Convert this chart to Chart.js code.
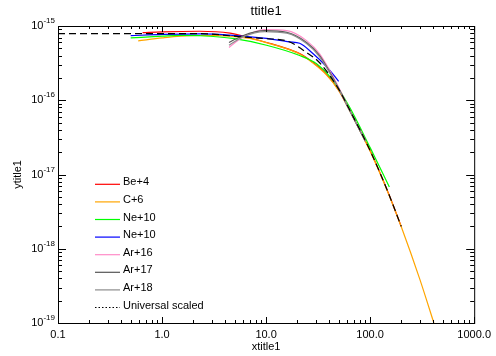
<!DOCTYPE html>
<html lang="en">
<head>
<meta charset="UTF-8" />
<title>ttitle1</title>
<script src="https://cdn.jsdelivr.net/npm/chart.js"></script>
<style>
  body { margin: 0; background: #fff; }
  canvas { display: block; }
</style>
</head>
<body>
<canvas id="chart" width="496" height="356"></canvas>
<script>
  // values (log-log)
  const beX = [0.65, 1.0, 2.3, 4.5, 7.0, 10.8, 14.4, 21, 28, 38, 50, 63, 100, 150, 199];
  const beY = [8.15e-16, 8.35e-16, 8.5e-16, 8.0e-16, 6.9e-16, 5.85e-16, 5.2e-16, 4.25e-16, 3.25e-16, 2.25e-16, 1.36e-16, 7.5e-17, 2.1e-17, 5.6e-18, 2.0e-18];

  const cX = [0.59, 1.0, 1.5, 2.3, 3.6, 5.6, 7.0, 10.8, 14.4, 21, 28, 38, 50, 63, 100, 150, 200, 300, 410];
  const cY = [6.3e-16, 6.9e-16, 7.3e-16, 7.45e-16, 7.4e-16, 7.1e-16, 6.8e-16, 5.8e-16, 5.15e-16, 4.2e-16, 3.2e-16, 2.2e-16, 1.35e-16, 7.4e-17, 2.05e-17, 5.5e-18, 1.95e-18, 3.9e-19, 1.0e-19];

  const ne1X = [0.5, 1.0, 1.5, 2.3, 4.8, 10.1, 21, 30.6, 43.5, 63, 100, 153];
  const ne1Y = [6.9e-16, 7.3e-16, 7.5e-16, 7.4e-16, 6.8e-16, 5.5e-16, 4.0e-16, 3.1e-16, 1.9e-16, 8.2e-17, 2.3e-17, 6.8e-18];

  const ne2X = [0.5, 1.0, 2.3, 4.8, 10.1, 16.8, 21, 28, 38, 49.8];
  const ne2Y = [7.4e-16, 7.7e-16, 7.85e-16, 7.5e-16, 6.8e-16, 6.1e-16, 5.85e-16, 4.3e-16, 2.85e-16, 1.8e-16];

  const arX = [4.4, 5.96, 9.7, 15.8, 24.5, 32.7, 49.8, 63, 90];
  const ar16Y = [5.15e-16, 7.05e-16, 8.95e-16, 8.65e-16, 6.35e-16, 4.2e-16, 1.5e-16, 7.6e-17, 2.9e-17];
  const ar17Y = [6.0e-16, 7.4e-16, 8.65e-16, 8.2e-16, 6.0e-16, 4.0e-16, 1.45e-16, 7.5e-17, 2.8e-17];
  const ar18Y = [5.5e-16, 7.1e-16, 8.4e-16, 8.0e-16, 5.8e-16, 3.85e-16, 1.42e-16, 7.4e-17, 2.8e-17];

  const uniX = [0.1, 1.0, 1.6, 2.9, 4.2, 7, 10, 15.8, 24.5, 32.7, 50, 63, 100, 150, 199];
  const uniY = [7.9e-16, 7.9e-16, 7.9e-16, 7.8e-16, 7.45e-16, 7.0e-16, 6.75e-16, 6.3e-16, 4.4e-16, 3.2e-16, 1.4e-16, 7.6e-17, 2.1e-17, 5.6e-18, 2.0e-18];

  const seriesNames = ['Be+4', 'C+6', 'Ne+10', 'Ne+10', 'Ar+16', 'Ar+17', 'Ar+18', 'Universal scaled'];
  const seriesColors = ['#ff0000', '#ffa500', '#00ff00', '#0000ff', '#ff8cc8', '#555555', '#8c8c8c', '#000000'];

  const xTickValues = [0.1, 1, 10, 100, 1000];
  const xTickLabels = ['0.1', '1.0', '10.0', '100.0', '1000.0'];
  const yTickValues = [1e-19, 1e-18, 1e-17, 1e-16, 1e-15];
  const yTickExps = ['-19', '-18', '-17', '-16', '-15'];

  const FONT = "'Liberation Sans', Arial, Helvetica, sans-serif";

  function pts(xs, ys) {
    return xs.map((x, i) => ({ x: x, y: ys[i] }));
  }

  const seriesData = [
    pts(beX, beY), pts(cX, cY), pts(ne1X, ne1Y), pts(ne2X, ne2Y),
    pts(arX, ar16Y), pts(arX, ar17Y), pts(arX, ar18Y), pts(uniX, uniY)
  ];

  const datasets = seriesData.map((d, i) => ({
    label: seriesNames[i],
    data: d,
    borderColor: seriesColors[i],
    backgroundColor: seriesColors[i],
    borderWidth: 1.2,
    borderDash: i === 7 ? [7, 4] : [],
    pointRadius: 0,
    showLine: true,
    cubicInterpolationMode: 'monotone',
    order: 8 - i
  }));

  // frame with inward ticks, titles, tick labels and the legend box
  const idlFrame = {
    id: 'idlFrame',
    afterDatasetsDraw(chart) {
      const ctx = chart.ctx;
      const a = chart.chartArea;
      const xs = chart.scales.x;
      const ys = chart.scales.y;
      ctx.save();
      ctx.strokeStyle = '#000';
      ctx.lineWidth = 1;
      ctx.setLineDash([]);
      ctx.strokeRect(a.left + 0.5, a.top + 0.5, a.right - a.left, a.bottom - a.top);

      ctx.beginPath();
      for (let d = -1; d <= 3; d++) {
        for (let m = 1; m <= 9; m++) {
          const v = m * Math.pow(10, d);
          if (v > 1000.0001) break;
          const px = Math.round(xs.getPixelForValue(v)) + 0.5;
          const len = m === 1 ? 6 : 3;
          ctx.moveTo(px, a.bottom); ctx.lineTo(px, a.bottom - len);
          ctx.moveTo(px, a.top); ctx.lineTo(px, a.top + len);
        }
      }
      for (let d = -19; d <= -15; d++) {
        for (let m = 1; m <= 9; m++) {
          const v = m * Math.pow(10, d);
          if (v > 1.0001e-15) break;
          const py = Math.round(ys.getPixelForValue(v)) + 0.5;
          const len = m === 1 ? 8 : 4;
          ctx.moveTo(a.left, py); ctx.lineTo(a.left + len, py);
          ctx.moveTo(a.right, py); ctx.lineTo(a.right - len, py);
        }
      }
      ctx.stroke();
      ctx.restore();
    },
    afterDraw(chart) {
      const ctx = chart.ctx;
      const a = chart.chartArea;
      const ys = chart.scales.y;
      ctx.save();
      ctx.fillStyle = '#000';

      // title and axis titles
      ctx.font = '13px ' + FONT;
      ctx.textAlign = 'center';
      ctx.textBaseline = 'middle';
      ctx.fillText('ttitle1', (a.left + a.right) / 2, 11);
      ctx.font = '11px ' + FONT;
      ctx.fillText('xtitle1', (a.left + a.right) / 2, 347);
      ctx.save();
      ctx.translate(18, (a.top + a.bottom) / 2);
      ctx.rotate(-Math.PI / 2);
      ctx.fillText('ytitle1', 0, 0);
      ctx.restore();

      // y tick labels as 10 with a raised exponent
      yTickValues.forEach((v, i) => {
        const py = ys.getPixelForValue(v);
        ctx.font = '8px ' + FONT;
        const we = ctx.measureText(yTickExps[i]).width;
        ctx.textAlign = 'left';
        ctx.fillText(yTickExps[i], a.left - 3 - we, py - 5);
        ctx.font = '11px ' + FONT;
        ctx.textAlign = 'right';
        ctx.fillText('10', a.left - 3 - we, py);
      });

      // legend
      chart.data.datasets.forEach((ds, i) => {
        const y = 184.3 + i * 17.6;
        ctx.strokeStyle = ds.borderColor;
        ctx.lineWidth = 1.2;
        ctx.setLineDash(i === 7 ? [1.5, 2] : []);
        ctx.beginPath();
        ctx.moveTo(95, y);
        ctx.lineTo(120, y);
        ctx.stroke();
        ctx.setLineDash([]);
        ctx.font = '11px ' + FONT;
        ctx.textAlign = 'left';
        ctx.fillText(ds.label, 123, y - 2);
      });
      ctx.restore();
    }
  };

  new Chart(document.getElementById('chart'), {
    type: 'scatter',
    data: { datasets: datasets },
    options: {
      responsive: false,
      animation: false,
      devicePixelRatio: 1,
      layout: { padding: { left: 0, top: 26, right: 21, bottom: 0 } },
      plugins: {
        legend: { display: false },
        title: { display: false },
        tooltip: { enabled: false }
      },
      scales: {
        x: {
          type: 'logarithmic',
          min: 0.1,
          max: 1000,
          grid: { display: false, drawTicks: false },
          border: { display: false },
          afterBuildTicks: scale => { scale.ticks = xTickValues.map(v => ({ value: v })); },
          afterFit: scale => { scale.height = 33; },
          ticks: {
            padding: 5,
            color: '#000',
            font: { family: FONT, size: 11 },
            maxRotation: 0,
            autoSkip: false,
            callback: (value) => xTickLabels[xTickValues.indexOf(value)]
          }
        },
        y: {
          type: 'logarithmic',
          min: 1e-19,
          max: 1e-15,
          grid: { display: false, drawTicks: false },
          border: { display: false },
          afterBuildTicks: scale => { scale.ticks = yTickValues.map(v => ({ value: v })); },
          afterFit: scale => { scale.width = 58; },
          ticks: { display: false }
        }
      }
    },
    plugins: [idlFrame]
  });
</script>
</body>
</html>
